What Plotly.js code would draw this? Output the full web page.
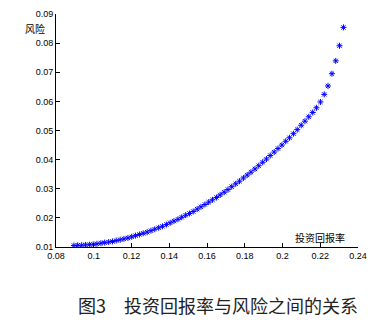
<!DOCTYPE html>
<html>
<head>
<meta charset="utf-8">
<script src="https://cdn.plot.ly/plotly-3.0.1.min.js"></script>
<style>
html,body{margin:0;padding:0;background:#fff;}
#chart{width:388px;height:331px;}
</style>
</head>
<body>
<div id="chart"></div>
<script>
// Expected return (投资回报率)
const returns = [
  0.0895,0.0915,0.0936,0.0956,0.0977,0.0997,0.1017,0.1038,0.1058,0.1079,
  0.1099,0.1119,0.1140,0.1160,0.1181,0.1201,0.1221,0.1242,0.1262,0.1283,
  0.1303,0.1323,0.1344,0.1364,0.1385,0.1405,0.1425,0.1446,0.1466,0.1487,
  0.1507,0.1527,0.1548,0.1568,0.1589,0.1609,0.1629,0.1650,0.1670,0.1691,
  0.1711,0.1731,0.1752,0.1772,0.1793,0.1813,0.1833,0.1854,0.1874,0.1895,
  0.1915,0.1935,0.1956,0.1976,0.1997,0.2017,0.2037,0.2058,0.2078,0.2099,
  0.2119,0.2139,0.2160,0.2180,0.2201,0.2221,0.2241,0.2262,0.2282,0.2302,
  0.2323
];
// Risk (风险)
const risks = [
  0.0105,0.0106,0.0106,0.0107,0.0108,0.0109,0.0111,0.0113,0.0115,0.0117,
  0.0119,0.0122,0.0125,0.0128,0.0131,0.0135,0.0139,0.0143,0.0147,0.0151,
  0.0156,0.0161,0.0166,0.0171,0.0177,0.0183,0.0189,0.0195,0.0202,0.0209,
  0.0215,0.0222,0.0230,0.0238,0.0246,0.0254,0.0262,0.0270,0.0279,0.0288,
  0.0297,0.0307,0.0317,0.0326,0.0337,0.0347,0.0357,0.0368,0.0379,0.0391,
  0.0402,0.0414,0.0426,0.0438,0.0450,0.0463,0.0475,0.0489,0.0503,0.0518,
  0.0532,0.0547,0.0562,0.0578,0.0598,0.0624,0.0653,0.0695,0.0739,0.0791,
  0.0854
];
const xTickVals = [0.08,0.10,0.12,0.14,0.16,0.18,0.20,0.22,0.24];
const xTickText = ["0.08","0.1","0.12","0.14","0.16","0.18","0.2","0.22","0.24"];
const yTickVals = [0.01,0.02,0.03,0.04,0.05,0.06,0.07,0.08,0.09];
const yTickText = ["0.01","0.02","0.03","0.04","0.05","0.06","0.07","0.08","0.09"];
const xLabel = "投资回报率";
const yLabel = "风险";
const caption = "图3　投资回报率与风险之间的关系";

const tickFont = {family:"Liberation Sans, Arial, sans-serif", size:9, color:"#000"};
const cjkFont = "Noto Sans CJK SC, sans-serif";

const trace = {
  x: returns, y: risks, type:"scatter", mode:"markers",
  marker:{symbol:"asterisk-open", size:5, color:"#0000ff", line:{color:"#0000ff", width:1}},
  hoverinfo:"skip"
};

const layout = {
  width:388, height:331,
  margin:{l:56, r:30, t:14, b:84},
  paper_bgcolor:"#fff", plot_bgcolor:"#fff",
  showlegend:false,
  xaxis:{
    range:[0.08,0.24], tickvals:xTickVals, ticktext:xTickText,
    showgrid:false, zeroline:false, showline:true, linecolor:"#000", linewidth:1,
    ticks:"inside", ticklen:4, tickcolor:"#000", tickfont:tickFont, mirror:false
  },
  yaxis:{
    range:[0.01,0.09], tickvals:yTickVals, ticktext:yTickText,
    showgrid:false, zeroline:false, showline:true, linecolor:"#000", linewidth:1,
    ticks:"inside", ticklen:4, tickcolor:"#000", tickfont:tickFont, mirror:false,
    ticklabelstandoff:0
  },
  annotations:[
    {text:yLabel, xref:"paper", yref:"paper", x:(34.5-56)/302, y:(247-28.5)/233, xanchor:"center", yanchor:"middle",
     showarrow:false, font:{family:cjkFont, size:10, color:"#000"}},
    {text:xLabel, xref:"paper", yref:"paper", x:(320-56)/302, y:(247-237)/233, xanchor:"center", yanchor:"middle",
     showarrow:false, font:{family:cjkFont, size:10, color:"#000"}},
    {text:caption, xref:"paper", yref:"paper", x:(217.5-56)/302, y:-(305-247)/233, xanchor:"center", yanchor:"middle",
     showarrow:false, font:{family:cjkFont, size:18, color:"#222"}}
  ]
};

Plotly.newPlot("chart", [trace], layout, {displayModeBar:false, staticPlot:true});
</script>
</body>
</html>
